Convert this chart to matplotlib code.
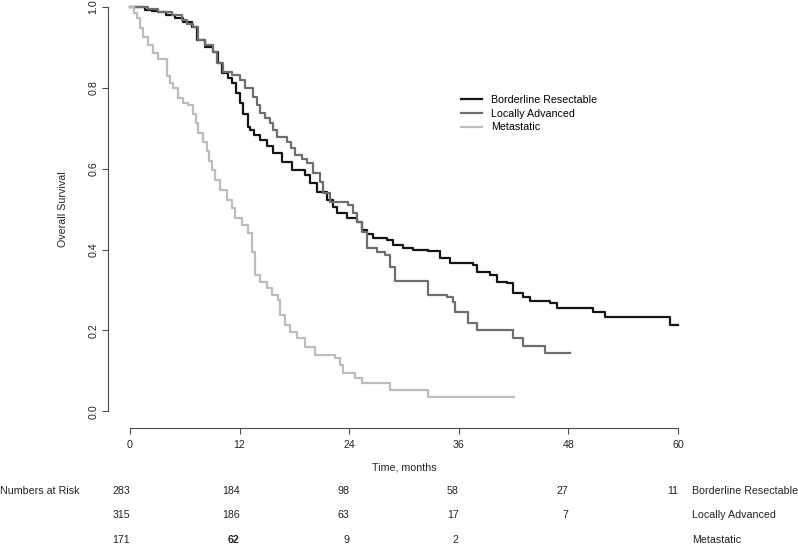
import matplotlib
matplotlib.use("Agg")
import matplotlib.pyplot as plt
from matplotlib.transforms import blended_transform_factory

plt.rcParams["font.family"] = ["Liberation Sans", "DejaVu Sans"]

# Kaplan-Meier step knots (months, survival after the drop)
br_time = [0, 1.6, 2.4, 3.1, 4.0, 4.9, 5.8, 6.8, 7.3, 8.2, 9.1, 9.6, 10.1, 10.7, 11.2,
           11.6, 12.0, 12.4, 12.9, 13.1, 13.6, 14.2, 15.0, 15.7, 16.6, 17.7, 19.2,
           19.7, 20.5, 21.6, 22.2, 22.7, 23.8, 24.9, 25.4, 26.0, 26.6, 28.1, 28.8,
           29.9, 31.0, 32.6, 33.9, 35.0, 37.6, 38.0, 39.4, 40.2, 41.3, 41.9, 43.0,
           43.8, 46.0, 46.8, 50.7, 52.0, 59.1, 60.0]
br_surv = [1.0, 0.993, 0.990, 0.988, 0.981, 0.973, 0.962, 0.950, 0.918, 0.901, 0.889,
           0.862, 0.837, 0.825, 0.812, 0.787, 0.762, 0.735, 0.703, 0.696, 0.684, 0.671,
           0.655, 0.639, 0.616, 0.597, 0.584, 0.564, 0.542, 0.522, 0.505, 0.490, 0.478,
           0.468, 0.448, 0.438, 0.428, 0.423, 0.411, 0.403, 0.399, 0.396, 0.379, 0.366,
           0.361, 0.344, 0.337, 0.319, 0.317, 0.292, 0.282, 0.272, 0.267, 0.255, 0.245,
           0.233, 0.213, 0.213]

la_time = [0, 2.0, 3.1, 4.6, 5.7, 6.3, 6.9, 7.4, 8.2, 9.1, 9.5, 10.2, 11.2, 12.0, 12.6,
           13.5, 13.9, 14.2, 14.8, 15.3, 15.7, 16.1, 17.2, 17.6, 18.1, 18.8, 19.4,
           20.0, 20.8, 21.1, 21.9, 23.9, 24.4, 24.9, 25.4, 26.0, 27.0, 27.9, 28.5,
           29.0, 32.6, 34.7, 35.4, 35.6, 37.0, 38.0, 41.9, 43.0, 45.4, 48.2]
la_surv = [1.0, 0.994, 0.988, 0.980, 0.968, 0.959, 0.950, 0.918, 0.906, 0.889, 0.861,
           0.839, 0.832, 0.819, 0.800, 0.777, 0.757, 0.738, 0.725, 0.713, 0.695, 0.678,
           0.666, 0.650, 0.634, 0.624, 0.614, 0.589, 0.567, 0.540, 0.517, 0.510, 0.490,
           0.468, 0.443, 0.403, 0.394, 0.386, 0.356, 0.322, 0.287, 0.282, 0.270, 0.245,
           0.218, 0.200, 0.181, 0.161, 0.144, 0.144]

met_time = [0, 0.5, 0.8, 1.1, 1.4, 2.0, 2.5, 3.1, 4.1, 4.4, 4.7, 5.3, 5.8, 6.4, 6.9,
            7.2, 7.4, 8.0, 8.4, 8.7, 9.0, 9.3, 9.9, 10.6, 11.2, 11.5, 12.3, 12.9, 13.4,
            13.7, 14.2, 15.0, 15.5, 16.2, 16.4, 17.0, 17.5, 18.3, 19.2, 20.3, 22.4,
            23.0, 23.3, 24.6, 25.4, 28.5, 32.6, 42.0]
met_surv = [1.0, 0.985, 0.973, 0.948, 0.926, 0.906, 0.886, 0.872, 0.830, 0.812, 0.800,
            0.775, 0.762, 0.757, 0.735, 0.712, 0.688, 0.666, 0.645, 0.620, 0.597, 0.572,
            0.547, 0.522, 0.502, 0.478, 0.462, 0.441, 0.394, 0.337, 0.319, 0.304, 0.287,
            0.275, 0.238, 0.213, 0.196, 0.181, 0.158, 0.139, 0.131, 0.114, 0.094, 0.082,
            0.069, 0.052, 0.035, 0.035]

groups = ["Borderline Resectable", "Locally Advanced", "Metastatic"]
colors = ["#141414", "#6e6e6e", "#bdbdbd"]

# numbers at risk table
risk_months = [0, 12, 24, 36, 48, 60]
risk_br = [283, 184, 98, 58, 27, 11]
risk_la = [315, 186, 63, 17, 7]
risk_met = [171, 62, 9, 2]

x_ticks = [0, 12, 24, 36, 48, 60]
y_ticks = [0.0, 0.2, 0.4, 0.6, 0.8, 1.0]

FS = 7.7
TXT = "#222222"
W, H = 798, 545
fig = plt.figure(figsize=(W / 100, H / 100), dpi=100)

# axes box placed in pixels (R-style 4% padding around the data range)
left_px, right_px, bottom_px, top_px = 108, 700, 427.5, -9.2
ax = fig.add_axes([left_px / W, (H - bottom_px) / H,
                   (right_px - left_px) / W, (bottom_px - top_px) / H])
ax.set_xlim(-2.4, 62.4)
ax.set_ylim(-0.04, 1.04)

for t, s, c, name in zip([br_time, la_time, met_time],
                         [br_surv, la_surv, met_surv], colors, groups):
    ax.step(t, s, where="post", color=c, lw=1.6, label=name, clip_on=False)

# R-like detached axes
axis_col = "#4d4d4d"
for side in ["top", "right"]:
    ax.spines[side].set_visible(False)
ax.spines["left"].set_bounds(0, 1)
ax.spines["bottom"].set_bounds(0, 60)
for side in ["left", "bottom"]:
    ax.spines[side].set_color(axis_col)
    ax.spines[side].set_linewidth(0.8)

ax.set_xticks(x_ticks)
ax.set_xticklabels([str(v) for v in x_ticks])
ax.set_yticks(y_ticks)
ax.set_yticklabels([f"{v:.1f}" for v in y_ticks], rotation=90, va="center")
ax.tick_params(axis="both", length=4, width=0.8, color=axis_col,
               labelsize=FS, labelcolor=TXT)
ax.tick_params(axis="x", pad=5)
ax.tick_params(axis="y", pad=3)

fig.text(63 / W, 1 - 209 / H, "Overall Survival", rotation=90, ha="center",
         va="center", fontsize=FS, color=TXT)
fig.text(404 / W, 1 - 468 / H, "Time, months", ha="center", va="center",
         fontsize=FS, color=TXT)

ax.legend(loc="upper left", bbox_to_anchor=(461 / W, 1 - 95 / H),
          bbox_transform=fig.transFigure, frameon=False, fontsize=FS,
          handlelength=2.0, handletextpad=0.85, labelspacing=0.35, borderpad=0,
          borderaxespad=0)

# numbers at risk, right-aligned under the ticks
tr = blended_transform_factory(ax.transData, fig.transFigure)
row_y = [491, 515, 540]
fig.text(0, 1 - row_y[0] / H, "Numbers at Risk", ha="left", va="center",
         fontsize=FS, color=TXT)
for y_px, counts, name in zip(row_y, [risk_br, risk_la, risk_met], groups):
    for m, n in zip(risk_months, counts):
        bold = name == "Metastatic" and n == 62
        ax.text(m, 1 - y_px / H, str(n), transform=tr, ha="right", va="center",
                fontsize=FS, color=TXT,
                fontweight="bold" if bold else "normal")
    fig.text(692 / W, 1 - y_px / H, name, ha="left", va="center",
             fontsize=FS, color=TXT)

fig.savefig("out.png", dpi=100)
